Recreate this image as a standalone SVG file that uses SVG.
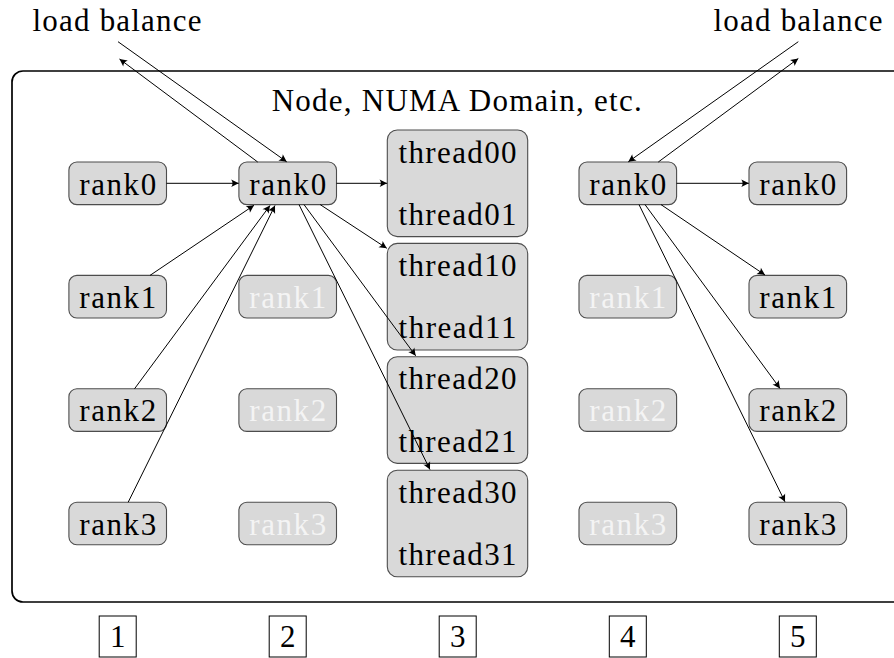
<svg xmlns="http://www.w3.org/2000/svg" width="894" height="658" viewBox="0 0 894 658">
<defs>
<style>
.box{fill:#d9d9d9;stroke:#4d4d4d;stroke-width:1.1;}
.num{fill:#fff;stroke:#000;stroke-width:1;}
.outer{fill:none;stroke:#000;stroke-width:1.7;}
.e{fill:none;stroke:#000;stroke-width:1;marker-end:url(#ah);}
</style>
<marker id="ah" markerUnits="userSpaceOnUse" viewBox="-9 -5 10 10" refX="0" refY="0" markerWidth="10" markerHeight="10" orient="auto">
<path d="M0,0 L-7.5,-3.8 Q-4.8,0 -7.5,3.8 Z" fill="#000"/>
</marker>
</defs>

<rect class="outer" x="12" y="71" width="900" height="531" rx="11"/>

<g id="labels">
<text x="32.5" y="31" font-size="31" font-family="Liberation Serif" textLength="169" lengthAdjust="spacing">load balance</text>
<text x="713.5" y="31" font-size="31" font-family="Liberation Serif" textLength="169" lengthAdjust="spacing">load balance</text>
<text x="271.7" y="111" font-size="31" font-family="Liberation Serif" textLength="370" lengthAdjust="spacing">Node, NUMA Domain, etc.</text>
</g>

<g id="c1r0"><rect class="box" x="68.9" y="162" width="97.6" height="42.6" rx="8"/><text x="79.2" y="194.5" font-size="31" font-family="Liberation Serif" textLength="77" lengthAdjust="spacing">rank0</text></g>
<g id="c1r1"><rect class="box" x="68.9" y="275.4" width="97.6" height="42.6" rx="8"/><text x="79.2" y="307.9" font-size="31" font-family="Liberation Serif" textLength="77" lengthAdjust="spacing">rank1</text></g>
<g id="c1r2"><rect class="box" x="68.9" y="388.8" width="97.6" height="42.6" rx="8"/><text x="79.2" y="421.3" font-size="31" font-family="Liberation Serif" textLength="77" lengthAdjust="spacing">rank2</text></g>
<g id="c1r3"><rect class="box" x="68.9" y="502.2" width="97.6" height="42.6" rx="8"/><text x="79.2" y="534.7" font-size="31" font-family="Liberation Serif" textLength="77" lengthAdjust="spacing">rank3</text></g>

<g id="c2r0"><rect class="box" x="238.9" y="162" width="97.6" height="42.6" rx="8"/><text x="249.2" y="194.5" font-size="31" font-family="Liberation Serif" textLength="77" lengthAdjust="spacing">rank0</text></g>
<g id="c2r1"><rect class="box" x="238.9" y="275.4" width="97.6" height="42.6" rx="8"/><text x="249.2" y="307.9" font-size="31" font-family="Liberation Serif" fill="#f4f4f4" textLength="77" lengthAdjust="spacing">rank1</text></g>
<g id="c2r2"><rect class="box" x="238.9" y="388.8" width="97.6" height="42.6" rx="8"/><text x="249.2" y="421.3" font-size="31" font-family="Liberation Serif" fill="#f4f4f4" textLength="77" lengthAdjust="spacing">rank2</text></g>
<g id="c2r3"><rect class="box" x="238.9" y="502.2" width="97.6" height="42.6" rx="8"/><text x="249.2" y="534.7" font-size="31" font-family="Liberation Serif" fill="#f4f4f4" textLength="77" lengthAdjust="spacing">rank3</text></g>

<g id="t0"><rect class="box" x="387.3" y="130" width="140.4" height="106.6" rx="10"/><text x="398.5" y="162.5" font-size="31" font-family="Liberation Serif" textLength="118" lengthAdjust="spacing">thread00</text><text x="398.5" y="225" font-size="31" font-family="Liberation Serif" textLength="118" lengthAdjust="spacing">thread01</text></g>
<g id="t1"><rect class="box" x="387.3" y="243.4" width="140.4" height="106.6" rx="10"/><text x="398.5" y="275.9" font-size="31" font-family="Liberation Serif" textLength="118" lengthAdjust="spacing">thread10</text><text x="398.5" y="338.4" font-size="31" font-family="Liberation Serif" textLength="118" lengthAdjust="spacing">thread11</text></g>
<g id="t2"><rect class="box" x="387.3" y="356.8" width="140.4" height="106.6" rx="10"/><text x="398.5" y="389.3" font-size="31" font-family="Liberation Serif" textLength="118" lengthAdjust="spacing">thread20</text><text x="398.5" y="451.8" font-size="31" font-family="Liberation Serif" textLength="118" lengthAdjust="spacing">thread21</text></g>
<g id="t3"><rect class="box" x="387.3" y="470.2" width="140.4" height="106.6" rx="10"/><text x="398.5" y="502.7" font-size="31" font-family="Liberation Serif" textLength="118" lengthAdjust="spacing">thread30</text><text x="398.5" y="565.2" font-size="31" font-family="Liberation Serif" textLength="118" lengthAdjust="spacing">thread31</text></g>

<g id="c4r0"><rect class="box" x="579" y="162" width="97.6" height="42.6" rx="8"/><text x="589.3" y="194.5" font-size="31" font-family="Liberation Serif" textLength="77" lengthAdjust="spacing">rank0</text></g>
<g id="c4r1"><rect class="box" x="579" y="275.4" width="97.6" height="42.6" rx="8"/><text x="589.3" y="307.9" font-size="31" font-family="Liberation Serif" fill="#f4f4f4" textLength="77" lengthAdjust="spacing">rank1</text></g>
<g id="c4r2"><rect class="box" x="579" y="388.8" width="97.6" height="42.6" rx="8"/><text x="589.3" y="421.3" font-size="31" font-family="Liberation Serif" fill="#f4f4f4" textLength="77" lengthAdjust="spacing">rank2</text></g>
<g id="c4r3"><rect class="box" x="579" y="502.2" width="97.6" height="42.6" rx="8"/><text x="589.3" y="534.7" font-size="31" font-family="Liberation Serif" fill="#f4f4f4" textLength="77" lengthAdjust="spacing">rank3</text></g>

<g id="c5r0"><rect class="box" x="749" y="162" width="97.6" height="42.6" rx="8"/><text x="759.3" y="194.5" font-size="31" font-family="Liberation Serif" textLength="77" lengthAdjust="spacing">rank0</text></g>
<g id="c5r1"><rect class="box" x="749" y="275.4" width="97.6" height="42.6" rx="8"/><text x="759.3" y="307.9" font-size="31" font-family="Liberation Serif" textLength="77" lengthAdjust="spacing">rank1</text></g>
<g id="c5r2"><rect class="box" x="749" y="388.8" width="97.6" height="42.6" rx="8"/><text x="759.3" y="421.3" font-size="31" font-family="Liberation Serif" textLength="77" lengthAdjust="spacing">rank2</text></g>
<g id="c5r3"><rect class="box" x="749" y="502.2" width="97.6" height="42.6" rx="8"/><text x="759.3" y="534.7" font-size="31" font-family="Liberation Serif" textLength="77" lengthAdjust="spacing">rank3</text></g>

<g id="n1"><rect class="num" x="99.2" y="616" width="37" height="41"/><text x="110" y="647" font-size="31" font-family="Liberation Serif">1</text></g>
<g id="n2"><rect class="num" x="269.2" y="616" width="37" height="41"/><text x="280" y="647" font-size="31" font-family="Liberation Serif">2</text></g>
<g id="n3"><rect class="num" x="439.2" y="616" width="37" height="41"/><text x="450" y="647" font-size="31" font-family="Liberation Serif">3</text></g>
<g id="n4"><rect class="num" x="609.3" y="616" width="37" height="41"/><text x="620" y="647" font-size="31" font-family="Liberation Serif">4</text></g>
<g id="n5"><rect class="num" x="779.3" y="616" width="37" height="41"/><text x="790" y="647" font-size="31" font-family="Liberation Serif">5</text></g>

<g id="connectors">
<path class="e" d="M166.5,183.3 L238.7,183.3"/>
<path class="e" d="M336.5,183.3 L387.1,183.3"/>
<path class="e" d="M320.2,204.6 L386.8,248.3"/>
<path class="e" d="M304,204.6 L415.7,355.8"/>
<path class="e" d="M299,204.6 L430,469.6"/>
<path class="e" d="M150,275.4 L254,205.3"/>
<path class="e" d="M134.5,388.8 L270,205.5"/>
<path class="e" d="M128.2,502.2 L275,205.5"/>
<path class="e" d="M257.7,162 L119.5,59"/>
<path class="e" d="M118,41.7 L286.7,161.8"/>
<path class="e" d="M798.3,41.7 L628.3,161.8"/>
<path class="e" d="M658.3,162 L798.3,58.5"/>
<path class="e" d="M676.6,183.3 L748.8,183.3"/>
<path class="e" d="M661,204.6 L765,275"/>
<path class="e" d="M645,204.6 L780,388.4"/>
<path class="e" d="M639,204.6 L785,501.8"/>
</g>
</svg>
